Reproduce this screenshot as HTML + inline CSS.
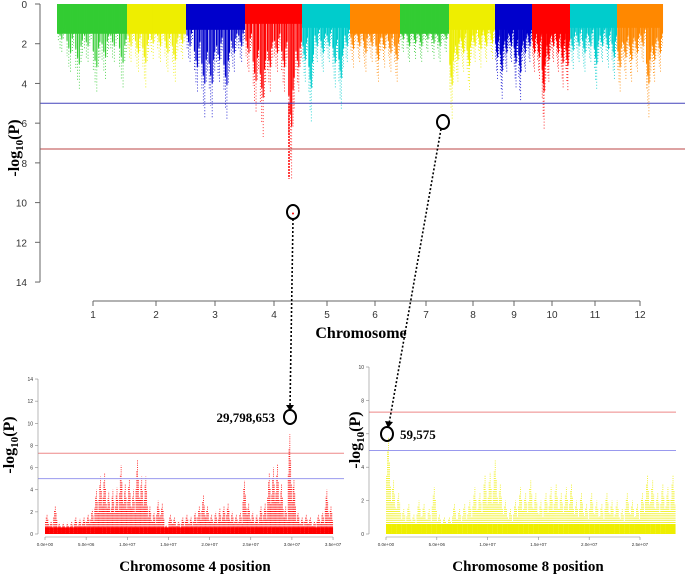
<!DOCTYPE html>
<html><head><meta charset="utf-8">
<style>
html,body{margin:0;padding:0;background:#fff;}
svg{display:block;font-family:"Liberation Sans",sans-serif;}
.ttl{font-family:"Liberation Serif",serif;font-weight:bold;}
</style></head>
<body>
<svg id="chart" width="685" height="575" viewBox="0 0 685 575" xmlns="http://www.w3.org/2000/svg">
<g id="top"></g>
<g id="left"></g>
<g id="right"></g>
<g id="ann"></g>
</svg>
<script>
// ---- Manhattan data ----
const chromosomes = ["1","2","3","4","5","6","7","8","9","10","11","12"];
const chromColors = ["#33cc33","#eeee00","#0000cc","#ff0000","#00cccc","#ff8800","#33cc33","#eeee00","#0000cc","#ff0000","#00cccc","#ff8800"];
const solidDepth = [1.5,1.5,1.3,1.0,1.2,1.5,1.5,1.3,1.3,1.5,1.2,1.2];
const chrMax = [
 [2.5,3.5,4.3,3.0,4.5,3.8,3.0,4.2],
 [3.0,3.5,4.2,2.8,3.0,3.5,4.0,2.8],
 [3.0,4.5,5.7,5.7,4.0,5.8,3.5,3.0],
 [3.5,5.5,6.7,4.5,3.5,4.5,8.8,4.5],
 [4.0,6.0,3.0,3.5,3.0,4.2,5.3,3.0],
 [3.2,3.0,3.5,3.0,4.0,3.2,3.5,4.0],
 [2.5,3.0,2.8,3.0,2.5,2.8,3.0,2.5],
 [5.8,4.0,3.5,4.4,3.0,3.2,3.0,2.8],
 [3.8,4.8,3.5,3.0,4.2,4.9,3.5,3.0],
 [3.5,3.8,6.3,4.0,3.0,3.5,4.2,4.4],
 [3.3,3.0,3.5,3.0,4.3,3.0,3.2,3.8],
 [4.5,3.8,4.0,3.5,3.0,5.7,4.0,3.5]
];
const topTicks = [0,2,4,6,8,10,12,14];
const suggestiveLine = 5;
const genomeLine = 7.3;
// ---- Regional data ----
const chr4Pos = [];
const chr4Val = [1.8,1.2,2.5,1.0,1.0,1.0,1.1,1.5,1.4,1.5,1.8,2.2,4.0,5.2,5.5,3.8,4.0,4.2,6.2,4.5,5.0,4.0,6.7,5.2,5.2,2.5,2.0,3.0,2.8,0.8,1.8,1.5,1.2,1.5,1.8,1.6,2.0,2.5,3.5,2.5,1.8,2.0,2.3,2.5,2.8,2.0,1.8,2.0,4.8,2.8,2.0,1.8,2.5,2.8,5.5,6.0,6.3,4.5,2.5,9.0,5.0,2.0,1.5,1.8,1.5,1.2,1.8,2.0,4.0,2.5];
for(let i=0;i<chr4Val.length;i++) chr4Pos.push(i*0.5);
const chr8Pos = [];
const chr8Val = [5.8,3.2,2.5,1.5,1.8,1.2,2.0,1.8,1.5,2.8,1.2,1.0,1.0,1.8,1.5,1.8,2.0,2.8,2.5,3.5,3.7,4.4,3.0,2.0,1.5,2.0,2.8,2.5,3.2,2.5,2.0,2.5,2.8,3.0,2.5,2.8,3.0,2.0,2.5,1.8,2.5,2.0,1.8,2.5,2.0,2.0,1.5,2.5,2.0,1.8,2.5,3.5,3.2,2.5,3.0,2.8,3.5];
for(let i=0;i<chr8Val.length;i++) chr8Pos.push(i*0.5);
const leftTicks = [0,2,4,6,8,10,12,14];
const leftXTicks = ["0.0e+00","5.0e+06","1.0e+07","1.5e+07","2.0e+07","2.5e+07","3.0e+07","3.5e+07"];
const rightTicks = [0,2,4,6,8,10];
const rightXTicks = ["0.0e+00","5.0e+06","1.0e+07","1.5e+07","2.0e+07","2.5e+07"];

const NS="http://www.w3.org/2000/svg";
function mk(parent,tag,attrs,text){const e=document.createElementNS(NS,tag);for(const k in attrs)e.setAttribute(k,attrs[k]);if(text!==undefined)e.textContent=text;parent.appendChild(e);return e;}

// ---------- TOP ----------
const T=document.getElementById('top');
const bounds=[57,127,186,245,302,350,400,449,495,532,570,617,663];
const tickX=[93,156,215,274,327,375,426,473,514,552,595,640];
const ty=v=>4+v*19.86;
chromosomes.forEach((c,i)=>{
  const x0=bounds[i],x1=bounds[i+1],w=x1-x0,col=chromColors[i];
  const g=mk(T,'g',{});
  
  
  mk(g,'rect',{x:x0,y:ty(0),width:w,height:ty(solidDepth[i])-ty(0),fill:col});
  const vals=chrMax[i],n=vals.length,sw=w/n;
  vals.forEach((v,j)=>{
    const cx=x0+sw*(j+0.5);
    const offs=[-0.35,-0.15,0.05,0.25,0.4];
    const fr=[0.75,0.9,1.0,0.7,0.6];
    offs.forEach((o,k)=>{
      const xx=cx+o*sw, vv=Math.max(solidDepth[i],v*fr[k]);
      mk(g,'line',{x1:xx,y1:ty(0),x2:xx,y2:ty(vv*0.7),stroke:col,'stroke-width':1.2});
      mk(g,'line',{x1:xx,y1:ty(vv*0.7),x2:xx,y2:ty(vv),stroke:col,'stroke-width':0.8,'stroke-dasharray':'1 2'});
    });
  });
});
const hx=289;
mk(T,'line',{x1:hx,y1:ty(5),x2:hx,y2:ty(8.8),stroke:'#f00','stroke-width':2,'stroke-dasharray':'1.5 1.5'});
mk(T,'circle',{cx:293,cy:ty(10.55),r:1,fill:'#f00'});
const bl=mk(T,'line',{x1:40,y1:ty(suggestiveLine),x2:685,y2:ty(suggestiveLine),stroke:'#4444bb','stroke-width':1});

const rl=mk(T,'line',{x1:40,y1:ty(genomeLine),x2:685,y2:ty(genomeLine),stroke:'#bb4444','stroke-width':1});

const ya=mk(T,'g',{});
mk(ya,'line',{x1:40,y1:ty(0),x2:40,y2:ty(14),stroke:'#666'});
topTicks.forEach(t=>{mk(ya,'line',{x1:35,y1:ty(t),x2:40,y2:ty(t),stroke:'#666'});
 mk(ya,'text',{x:27,y:ty(t)+4,'font-size':10,'text-anchor':'end',fill:'#333'},t);});
const xa=mk(T,'g',{});
mk(xa,'line',{x1:93,y1:301,x2:640,y2:301,stroke:'#666'});
tickX.forEach((x,i)=>{mk(xa,'line',{x1:x,y1:301,x2:x,y2:306,stroke:'#666'});
 mk(xa,'text',{x:x,y:318,'font-size':10,'text-anchor':'middle',fill:'#333'},chromosomes[i]);});
const xt=mk(T,'text',{x:361,y:338,'font-size':16,'text-anchor':'middle',class:'ttl'},'Chromosome');

const yt=mk(T,'text',{x:0,y:0,'font-size':16,'text-anchor':'middle',class:'ttl',transform:'translate(19,148) rotate(-90)'});

yt.innerHTML='-log<tspan font-size="11" dy="4">10</tspan><tspan dy="-4">(P)</tspan>';

// ---------- regional ----------
function regional(G,pos,val,opt){
  const yS=v=>opt.y0-v*opt.ppu, xS=m=>opt.x0+m*opt.ppm;
  const marks=mk(G,'g',{});
  pos.forEach((p,i)=>{
    const v=val[i],x=xS(p),w=opt.ppm*0.5;
    const sv=Math.min(v,0.6);
    mk(marks,'rect',{x:x,y:yS(sv),width:w,height:yS(0)-yS(sv),fill:opt.col});
    [0.1,0.3,0.5,0.7,0.9].forEach((f,k)=>{
      const vv=v*[0.6,0.85,1,0.75,0.5][k];
      mk(marks,'line',{x1:x+f*w,y1:yS(0),x2:x+f*w,y2:yS(vv),stroke:opt.col,'stroke-width':0.8,'stroke-dasharray':'1 1.2'});
    });
  });
  mk(G,'line',{x1:opt.ax,y1:yS(opt.gw),x2:opt.xr,y2:yS(opt.gw),stroke:'#ee8888','stroke-width':1});
  mk(G,'line',{x1:opt.ax,y1:yS(opt.sg),x2:opt.xr,y2:yS(opt.sg),stroke:'#9999ee','stroke-width':1});
  const ya=mk(G,'g',{});
  mk(ya,'line',{x1:opt.ax,y1:yS(0),x2:opt.ax,y2:yS(opt.yt[opt.yt.length-1]),stroke:'#888','stroke-width':0.6});
  opt.yt.forEach(t=>{mk(ya,'line',{x1:opt.ax-3,y1:yS(t),x2:opt.ax,y2:yS(t),stroke:'#888','stroke-width':0.6});
    mk(ya,'text',{x:opt.ax-5,y:yS(t)+2,'font-size':5,'text-anchor':'end',fill:'#333'},t);});
  const xa=mk(G,'g',{});
  mk(xa,'line',{x1:xS(0),y1:opt.y0+3,x2:xS((opt.xt.length-1)*5),y2:opt.y0+3,stroke:'#888','stroke-width':0.6});
  opt.xt.forEach((t,i)=>{const x=xS(i*5);mk(xa,'line',{x1:x,y1:opt.y0+3,x2:x,y2:opt.y0+6,stroke:'#888','stroke-width':0.6});
    mk(xa,'text',{x:x,y:opt.y0+12,'font-size':4.5,'text-anchor':'middle',fill:'#333'},t);});
  const yt=mk(G,'text',{x:0,y:0,'font-size':16,'text-anchor':'middle',class:'ttl',transform:'translate('+opt.ylx+','+opt.yly+') rotate(-90)'});
  
  yt.innerHTML='-log<tspan font-size="11" dy="4">10</tspan><tspan dy="-4">(P)</tspan>';
  const xt=mk(G,'text',{x:opt.tx,y:571,'font-size':15,'text-anchor':'middle',class:'ttl'},opt.title);
  
}
regional(document.getElementById('left'),chr4Pos,chr4Val,{name:'chr4',col:'#ff0000',x0:45,ppm:8.23,y0:534,ppu:11.07,ax:38,xr:344,gw:7.3,sg:5,yt:leftTicks,xt:leftXTicks,ylx:14,yly:445,tx:195,title:'Chromosome 4 position'});
regional(document.getElementById('right'),chr8Pos,chr8Val,{name:'chr8',col:'#eeee00',x0:386,ppm:10.16,y0:534,ppu:16.7,ax:369,xr:676,gw:7.3,sg:5,yt:rightTicks,xt:rightXTicks,ylx:360,yly:440,tx:528,title:'Chromosome 8 position'});

// ---------- annotations ----------
const A=document.getElementById('ann');
function circ(x,y,name){const c=mk(A,'ellipse',{cx:x,cy:y,rx:6,ry:7,fill:'none',stroke:'#000','stroke-width':2});}
circ(293,212,'chr4-top-snp-circle');
circ(443,122,'chr8-top-snp-circle');
circ(290,417,'chr4-regional-snp-circle');
circ(387,434,'chr8-regional-snp-circle');
const a1=mk(A,'line',{x1:293,y1:219,x2:290,y2:407,stroke:'#000','stroke-width':1.6,'stroke-dasharray':'2 2'});

mk(A,'path',{d:'M286,405 L290,411 L294,405 Z',fill:'#000'});
const a2=mk(A,'line',{x1:441,y1:129,x2:389,y2:424,stroke:'#000','stroke-width':1.6,'stroke-dasharray':'2 2'});

mk(A,'path',{d:'M385,421 L388,428 L393,422 Z',fill:'#000'});
const l1=mk(A,'text',{x:275,y:422,'font-size':13,'text-anchor':'end',class:'ttl'},'29,798,653');

const l2=mk(A,'text',{x:400,y:439,'font-size':13,class:'ttl'},'59,575');

</script>
</body></html>
